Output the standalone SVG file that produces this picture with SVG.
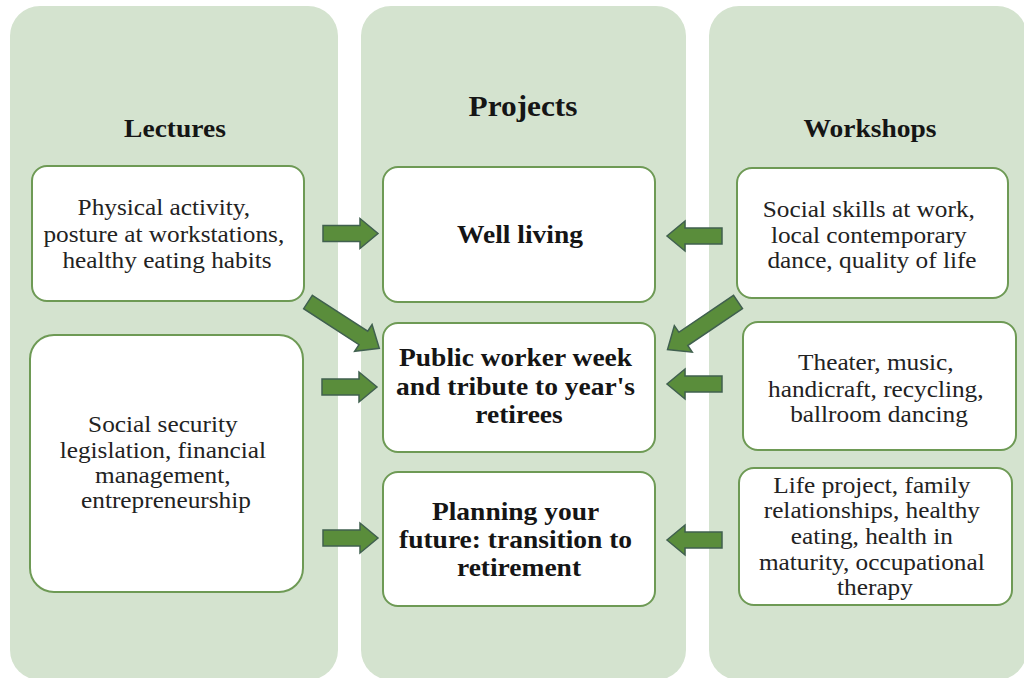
<svg xmlns="http://www.w3.org/2000/svg" xmlns:xlink="http://www.w3.org/1999/xlink" width="1024" height="678" viewBox="0 0 1024 678">
  <style>
    .panel { fill: #d4e3cf; }
    .box { fill: #ffffff; stroke: #6e9a55; stroke-width: 2; }
    .txt { font-family: "Liberation Serif", "Times New Roman", serif; font-size: 23px; fill: #222222; text-anchor: middle; }
    .bold { font-family: "Liberation Serif", "Times New Roman", serif; font-size: 25px; font-weight: bold; fill: #151515; text-anchor: middle; }
    .head { font-family: "Liberation Serif", "Times New Roman", serif; font-weight: bold; fill: #151515; text-anchor: middle; }
    .arrow { fill: #5a8d3b; stroke: #40604f; stroke-width: 1.5; stroke-linejoin: miter; }
  </style>
  <defs>
    <!-- block arrow pointing along +x, tail at the origin -->
    <path id="arrowShort" d="M0,-8 H37 V-15 L55,0 L37,15 V8 H0 Z"/>
    <path id="arrowLong" d="M0,-8 H66 V-16 L85,0 L66,16 V8 H0 Z"/>
  </defs>

  <rect width="1024" height="678" fill="#ffffff"/>

  <!-- column panels -->
  <g id="panels">
    <rect class="panel" x="10" y="6" width="328" height="674" rx="30"/>
    <rect class="panel" x="361" y="6" width="325" height="674" rx="30"/>
    <rect class="panel" x="709" y="6" width="318" height="674" rx="30"/>
  </g>

  <!-- column headings -->
  <g id="heading-lectures">
    <text class="head" font-size="25" transform="translate(175 137) scale(1.1 1)" x="0" y="0">Lectures</text>
  </g>
  <g id="heading-projects">
    <text class="head" font-size="29" transform="translate(523 116) scale(1.08 1)" x="0" y="0">Projects</text>
  </g>
  <g id="heading-workshops">
    <text class="head" font-size="25" transform="translate(870 137) scale(1.1 1)" x="0" y="0">Workshops</text>
  </g>

  <!-- lectures -->
  <g id="lecture-health">
    <rect class="box" x="32" y="166" width="272" height="135" rx="15"/>
    <text class="txt" transform="translate(167 0) scale(1.1 1)">
      <tspan x="0" y="215">Physical activity,</tspan>
      <tspan x="0" y="242">posture at workstations,</tspan>
      <tspan x="0" y="268">healthy eating habits</tspan>
    </text>
  </g>
  <g id="lecture-finance">
    <rect class="box" x="30" y="335" width="273" height="257" rx="24"/>
    <text class="txt" transform="translate(166 0) scale(1.1 1)">
      <tspan x="0" y="432">Social security</tspan>
      <tspan x="0" y="458">legislation, financial</tspan>
      <tspan x="0" y="483">management,</tspan>
      <tspan x="0" y="508">entrepreneurship</tspan>
    </text>
  </g>

  <!-- projects -->
  <g id="project-well-living">
    <rect class="box" x="383" y="167" width="272" height="135" rx="15"/>
    <text class="bold" transform="translate(520 0) scale(1.1 1)">
      <tspan x="0" y="243">Well living</tspan>
    </text>
  </g>
  <g id="project-public-worker">
    <rect class="box" x="383" y="323" width="272" height="129" rx="15"/>
    <text class="bold" transform="translate(519 0) scale(1.1 1)">
      <tspan x="0" y="366">Public worker week</tspan>
      <tspan x="0" y="395">and tribute to year's</tspan>
      <tspan x="0" y="423">retirees</tspan>
    </text>
  </g>
  <g id="project-planning">
    <rect class="box" x="383" y="472" width="272" height="134" rx="15"/>
    <text class="bold" transform="translate(519 0) scale(1.1 1)">
      <tspan x="0" y="520">Planning your</tspan>
      <tspan x="0" y="548">future: transition to</tspan>
      <tspan x="0" y="576">retirement</tspan>
    </text>
  </g>

  <!-- workshops -->
  <g id="workshop-social">
    <rect class="box" x="737" y="168" width="271" height="130" rx="15"/>
    <text class="txt" transform="translate(872 0) scale(1.1 1)">
      <tspan x="0" y="217">Social skills at work,</tspan>
      <tspan x="0" y="243">local contemporary</tspan>
      <tspan x="0" y="268">dance, quality of life</tspan>
    </text>
  </g>
  <g id="workshop-arts">
    <rect class="box" x="743" y="322" width="273" height="128" rx="15"/>
    <text class="txt" transform="translate(879 0) scale(1.1 1)">
      <tspan x="0" y="370">Theater, music,</tspan>
      <tspan x="0" y="397">handicraft, recycling,</tspan>
      <tspan x="0" y="422">ballroom dancing</tspan>
    </text>
  </g>
  <g id="workshop-life">
    <rect class="box" x="739" y="468" width="273" height="137" rx="15"/>
    <text class="txt" transform="translate(875 0) scale(1.1 1)">
      <tspan x="0" y="493">Life project, family</tspan>
      <tspan x="0" y="518">relationships, healthy</tspan>
      <tspan x="0" y="544">eating, health in</tspan>
      <tspan x="0" y="570">maturity, occupational</tspan>
      <tspan x="0" y="595">therapy</tspan>
    </text>
  </g>

  <!-- connectors -->
  <g id="connectors">
    <use class="arrow" xlink:href="#arrowShort" href="#arrowShort" transform="translate(323 233.5)"/>
    <use class="arrow" xlink:href="#arrowLong" href="#arrowLong" transform="translate(308 302) rotate(33)"/>
    <use class="arrow" xlink:href="#arrowShort" href="#arrowShort" transform="translate(322 387)"/>
    <use class="arrow" xlink:href="#arrowShort" href="#arrowShort" transform="translate(323 538)"/>
    <use class="arrow" xlink:href="#arrowShort" href="#arrowShort" transform="translate(722 236) rotate(180)"/>
    <use class="arrow" xlink:href="#arrowLong" href="#arrowLong" transform="translate(738 302) rotate(146)"/>
    <use class="arrow" xlink:href="#arrowShort" href="#arrowShort" transform="translate(722 384) rotate(180)"/>
    <use class="arrow" xlink:href="#arrowShort" href="#arrowShort" transform="translate(722 540) rotate(180)"/>
  </g>
</svg>
